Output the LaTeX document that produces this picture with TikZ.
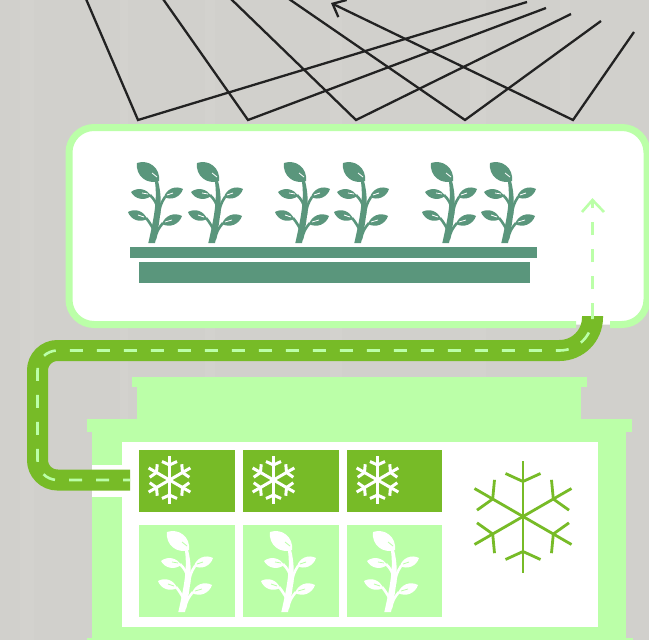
\documentclass[tikz,border=0pt]{standalone}
\usepackage{tikz}
\usetikzlibrary{arrows.meta,positioning,calc}
\definecolor{wallGray}{RGB}{209,208,204}
\definecolor{stripeGray}{RGB}{216,216,211}
\definecolor{paleGreen}{RGB}{187,255,168}
\definecolor{pipeGreen}{RGB}{119,187,39}
\definecolor{leafGreen}{RGB}{90,150,124}
\definecolor{lineBlack}{RGB}{34,34,34}
\tikzset{
  zigzag/.style={line width=2.3pt, draw=lineBlack, line join=miter},
  flow/.style={line width=2.6pt, draw=paleGreen, dash pattern=on 13pt off 14pt},
  pipe/.style={line width=21pt, draw=pipeGreen,
               postaction={draw=paleGreen, line width=2.6pt, dash pattern=on 13pt off 14pt, dash phase=6pt}},
  bar/.style={fill=leafGreen, draw=none, inner sep=0pt, outer sep=0pt},
  coldcell/.style={fill=pipeGreen, inner sep=0pt, minimum height=62pt},
  growcell/.style={fill=paleGreen, inner sep=0pt, minimum height=92pt},
  fat/.style={bend left=50, looseness=1.05},
  pics/flake/.style 2 args={code={
    \foreach \ang in {0,60,...,300} {
      \draw[#1, line width=#2, rotate=\ang] (0,0) -- (0,-56);
      \draw[#1, line width=#2, rotate=\ang] (-17.5,-43) -- (0,-35) -- (17.5,-43);
    }
  }},
  pics/plant/.style 2 args={code={
    \fill[#1] (-3.7,0) .. controls (2,-25) and (6,-45) .. (2.5,-64)
      -- (5.5,-64) .. controls (11,-45) and (9,-25) .. (3,0) -- cycle;
    \draw[#1, line width=2.6pt] (-2,-48) to[bend left=15] (6,-34);
    \draw[#1, line width=2.6pt] (13,-46) to[bend right=15] (7,-28);
    \draw[#1, line width=2.6pt] (-6,-25) to[bend left=10] (3.5,-8);
    \draw[#1, line width=2.6pt] (11,-20) to[bend right=15] (3,-4);
    \fill[#1] (7,-62) to[bend left=58, looseness=1.15] (-15,-80) to[bend left=58, looseness=1.15] (7,-62);
    \fill[#1] (-1,-47) to[fat] (-21,-51) to[fat] (-1,-47);
    \fill[#1] (12,-46) to[fat] (31,-54) to[fat] (12,-46);
    \fill[#1] (-5,-24) to[fat] (-24,-31) to[fat] (-5,-24);
    \fill[#1] (10,-19) to[fat] (30,-27) to[fat] (10,-19);
    \draw[#2, line width=.8pt] (5,-66) -- (0,-70);
    \draw[#2, line width=.8pt] (-4,-49) -- (-10,-50);
    \draw[#2, line width=.8pt] (15,-48) -- (21,-50);
    \draw[#2, line width=.8pt] (-8,-26) -- (-14,-28);
    \draw[#2, line width=.8pt] (13,-21) -- (20,-23);
  }}
}
\begin{document}
\begin{tikzpicture}[x=1pt, y=-1pt]
\useasboundingbox (0,0) rectangle (649,640);
\fill[wallGray] (0,0) rectangle (649,640);
\foreach \sx/\sw in {20/14, 120/8, 205/10, 330/12, 470/16, 560/10}
  \fill[stripeGray, opacity=.3] (\sx,0) rectangle (\sx+\sw,640);
% arrows on top
\coordinate (zA) at (86,-1);
\coordinate (zB) at (163,-1);
\coordinate (zC) at (231,-1);
\coordinate (zD) at (289,-1);
\coordinate (eA) at (527,2);
\coordinate (eB) at (546,8);
\coordinate (eC) at (571,14);
\coordinate (eD) at (601,21);
\coordinate (eE) at (634,32);
\coordinate (tip) at (331,3);
\draw[zigzag] (zA) -- (138,120) -- (eA);
\draw[zigzag] (zB) -- (248,120) -- (eB);
\draw[zigzag] (zC) -- (356,120) -- (eC);
\draw[zigzag] (zD) -- (465,120) -- (eD);
\draw[zigzag, -{Straight Barb[length=11pt,width=19pt]}] (eE) -- (573,120) -- (tip);
% panel
\fill[white, rounded corners=25pt] (69,127.5) rectangle (647,324.5);
\draw[paleGreen, line width=7pt, rounded corners=25pt]
  (576,324.5) -- (69,324.5) -- (69,127.5) -- (647,127.5) -- (647,324.5) -- (610,324.5);
\node[bar, minimum width=407pt, minimum height=11pt] (tray) at (333.5,252.5) {};
\node[bar, minimum width=391pt, minimum height=21pt] (base) at (334.5,272.5) {};
\foreach \px in {152,212,299,358,446,505}
  \pic at (\px,243) {plant={leafGreen}{white}};
% cooler
\fill[paleGreen] (132,377) rectangle (587,387);
\fill[paleGreen] (137,387) rectangle (581,419);
\fill[paleGreen] (87,419) rectangle (632,432);
\fill[paleGreen] (92,432) rectangle (626,640);
\fill[paleGreen] (87,638) rectangle (633,640);
\fill[white] (122,442) rectangle (598,627);
\fill[white] (92,465) rectangle (122,497);
\node[coldcell, minimum width=96pt] (cA) at (187,481) {};
\node[coldcell, minimum width=96pt] (cB) at (291,481) {};
\node[coldcell, minimum width=95pt] (cC) at (394.5,481) {};
\node[growcell, minimum width=96pt] (gA) at (187,571) {};
\node[growcell, minimum width=96pt] (gB) at (291,571) {};
\node[growcell, minimum width=95pt] (gC) at (394.5,571) {};
\pic[scale=.43] at (169.5,480) {flake={white}{3pt}};
\pic[scale=.43] at (273.5,480) {flake={white}{3pt}};
\pic[scale=.43] at (377.5,480) {flake={white}{3pt}};
\pic at (523,516.5) {flake={pipeGreen}{2.8pt}};
\pic at (182,612) {plant={white}{paleGreen}};
\pic at (285,612) {plant={white}{paleGreen}};
\pic at (388,612) {plant={white}{paleGreen}};
% pipe
\coordinate (pipeIn) at (130,480);
\coordinate (pipeOut) at (592.5,316);
\draw[pipe, rounded corners=20pt] (pipeIn) -- (37.5,480) -- (37.5,350.5) -- (400,350.5)
  [rounded corners=33pt] -- (592.5,350.5) -- (pipeOut);
\coordinate (upTip) at (592.5,200);
\draw[flow] (pipeOut) -- (upTip);
\draw[draw=paleGreen, line width=2.6pt] (582,212) -- (upTip) -- (604,212);
\end{tikzpicture}
\end{document}
